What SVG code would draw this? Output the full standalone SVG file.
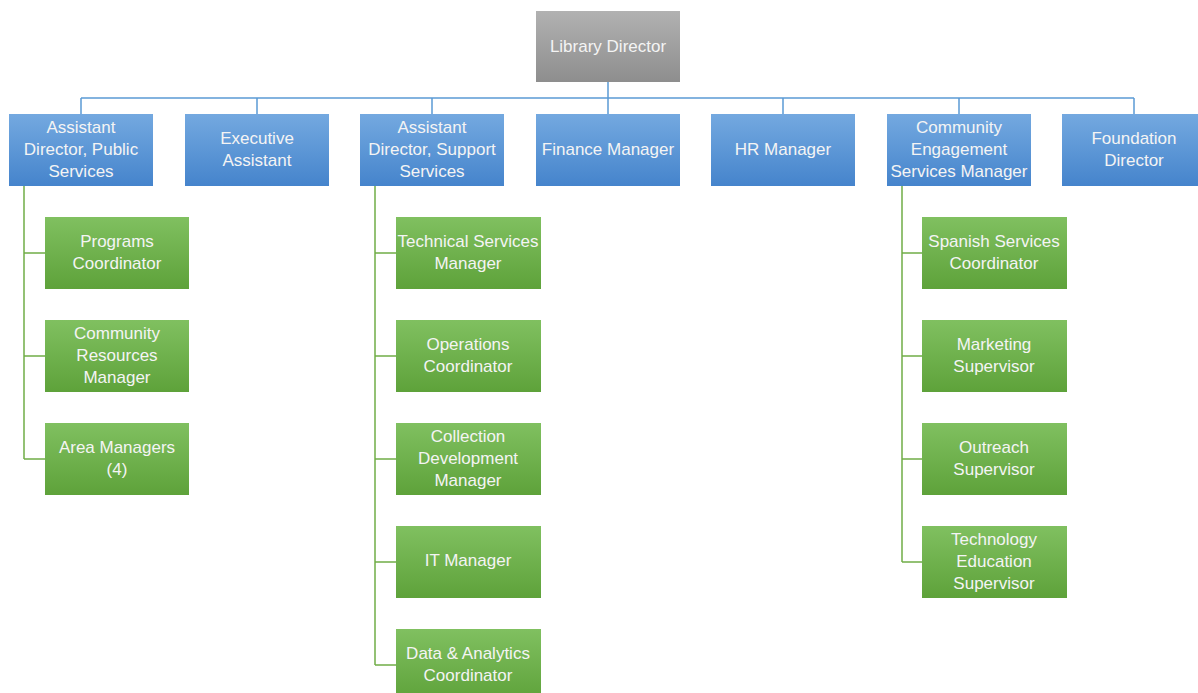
<svg xmlns="http://www.w3.org/2000/svg" width="1198" height="693" viewBox="0 0 1198 693">
<defs>
<linearGradient id="gGray" x1="0" y1="0" x2="0" y2="1"><stop offset="0" stop-color="#b1b1b1"/><stop offset="1" stop-color="#8e8e8e"/></linearGradient>
<linearGradient id="gBlue" x1="0" y1="0" x2="0" y2="1"><stop offset="0" stop-color="#74a9e0"/><stop offset="1" stop-color="#4584cc"/></linearGradient>
<linearGradient id="gGreen" x1="0" y1="0" x2="0" y2="1"><stop offset="0" stop-color="#80c060"/><stop offset="1" stop-color="#5ea23a"/></linearGradient>
</defs>
<style>
.gray{fill:url(#gGray)}
.blue{fill:url(#gBlue)}
.green{fill:url(#gGreen)}
text{font-family:"Liberation Sans",Arial,sans-serif;font-size:17px;fill:#f4f4f4;text-anchor:middle}
.cb{stroke:#5b9bd5;stroke-width:1.5;fill:none}
.cg{stroke:#70ad47;stroke-width:1.5;fill:none}
</style>
<rect width="1198" height="693" fill="#ffffff"/>
<g id="connectors">
<path class="cb" d="M608 82V98M81 98H1134M81 98V114M257 98V114M432 98V114M608 98V114M783 98V114M959 98V114M1134 98V114"/>
<path class="cg" d="M24 186V459M24 253H45M24 356H45M24 459H45"/>
<path class="cg" d="M375 186V665M375 253H396M375 356H396M375 459H396M375 562H396M375 665H396"/>
<path class="cg" d="M902 186V562M902 253H922M902 356H922M902 459H922M902 562H922"/>
</g>
<g id="n-director"><rect class="gray" x="536" y="11" width="144" height="71"/><text x="608" y="52">Library Director</text></g>
<g id="n-adps"><rect class="blue" x="9" y="114" width="144" height="72"/><text x="81" y="133">Assistant</text><text x="81" y="155">Director, Public</text><text x="81" y="177">Services</text></g>
<g id="n-ea"><rect class="blue" x="185" y="114" width="144" height="72"/><text x="257" y="144">Executive</text><text x="257" y="166">Assistant</text></g>
<g id="n-adss"><rect class="blue" x="360" y="114" width="144" height="72"/><text x="432" y="133">Assistant</text><text x="432" y="155">Director, Support</text><text x="432" y="177">Services</text></g>
<g id="n-fin"><rect class="blue" x="536" y="114" width="144" height="72"/><text x="608" y="155">Finance Manager</text></g>
<g id="n-hr"><rect class="blue" x="711" y="114" width="144" height="72"/><text x="783" y="155">HR Manager</text></g>
<g id="n-ces"><rect class="blue" x="887" y="114" width="144" height="72"/><text x="959" y="133">Community</text><text x="959" y="155">Engagement</text><text x="959" y="177">Services Manager</text></g>
<g id="n-fd"><rect class="blue" x="1062" y="114" width="144" height="72"/><text x="1134" y="144">Foundation</text><text x="1134" y="166">Director</text></g>
<g id="n-pc"><rect class="green" x="45" y="217" width="144" height="72"/><text x="117" y="247">Programs</text><text x="117" y="269">Coordinator</text></g>
<g id="n-crm"><rect class="green" x="45" y="320" width="144" height="72"/><text x="117" y="339">Community</text><text x="117" y="361">Resources</text><text x="117" y="383">Manager</text></g>
<g id="n-am"><rect class="green" x="45" y="423" width="144" height="72"/><text x="117" y="453">Area Managers</text><text x="117" y="475">(4)</text></g>
<g id="n-tsm"><rect class="green" x="396" y="217" width="145" height="72"/><text x="468" y="247">Technical Services</text><text x="468" y="269">Manager</text></g>
<g id="n-oc"><rect class="green" x="396" y="320" width="145" height="72"/><text x="468" y="350">Operations</text><text x="468" y="372">Coordinator</text></g>
<g id="n-cdm"><rect class="green" x="396" y="423" width="145" height="72"/><text x="468" y="442">Collection</text><text x="468" y="464">Development</text><text x="468" y="486">Manager</text></g>
<g id="n-it"><rect class="green" x="396" y="526" width="145" height="72"/><text x="468" y="566">IT Manager</text></g>
<g id="n-dac"><rect class="green" x="396" y="629" width="145" height="72"/><text x="468" y="659">Data &amp; Analytics</text><text x="468" y="681">Coordinator</text></g>
<g id="n-ssc"><rect class="green" x="922" y="217" width="145" height="72"/><text x="994" y="247">Spanish Services</text><text x="994" y="269">Coordinator</text></g>
<g id="n-ms"><rect class="green" x="922" y="320" width="145" height="72"/><text x="994" y="350">Marketing</text><text x="994" y="372">Supervisor</text></g>
<g id="n-os"><rect class="green" x="922" y="423" width="145" height="72"/><text x="994" y="453">Outreach</text><text x="994" y="475">Supervisor</text></g>
<g id="n-tes"><rect class="green" x="922" y="526" width="145" height="72"/><text x="994" y="545">Technology</text><text x="994" y="567">Education</text><text x="994" y="589">Supervisor</text></g>
</svg>
